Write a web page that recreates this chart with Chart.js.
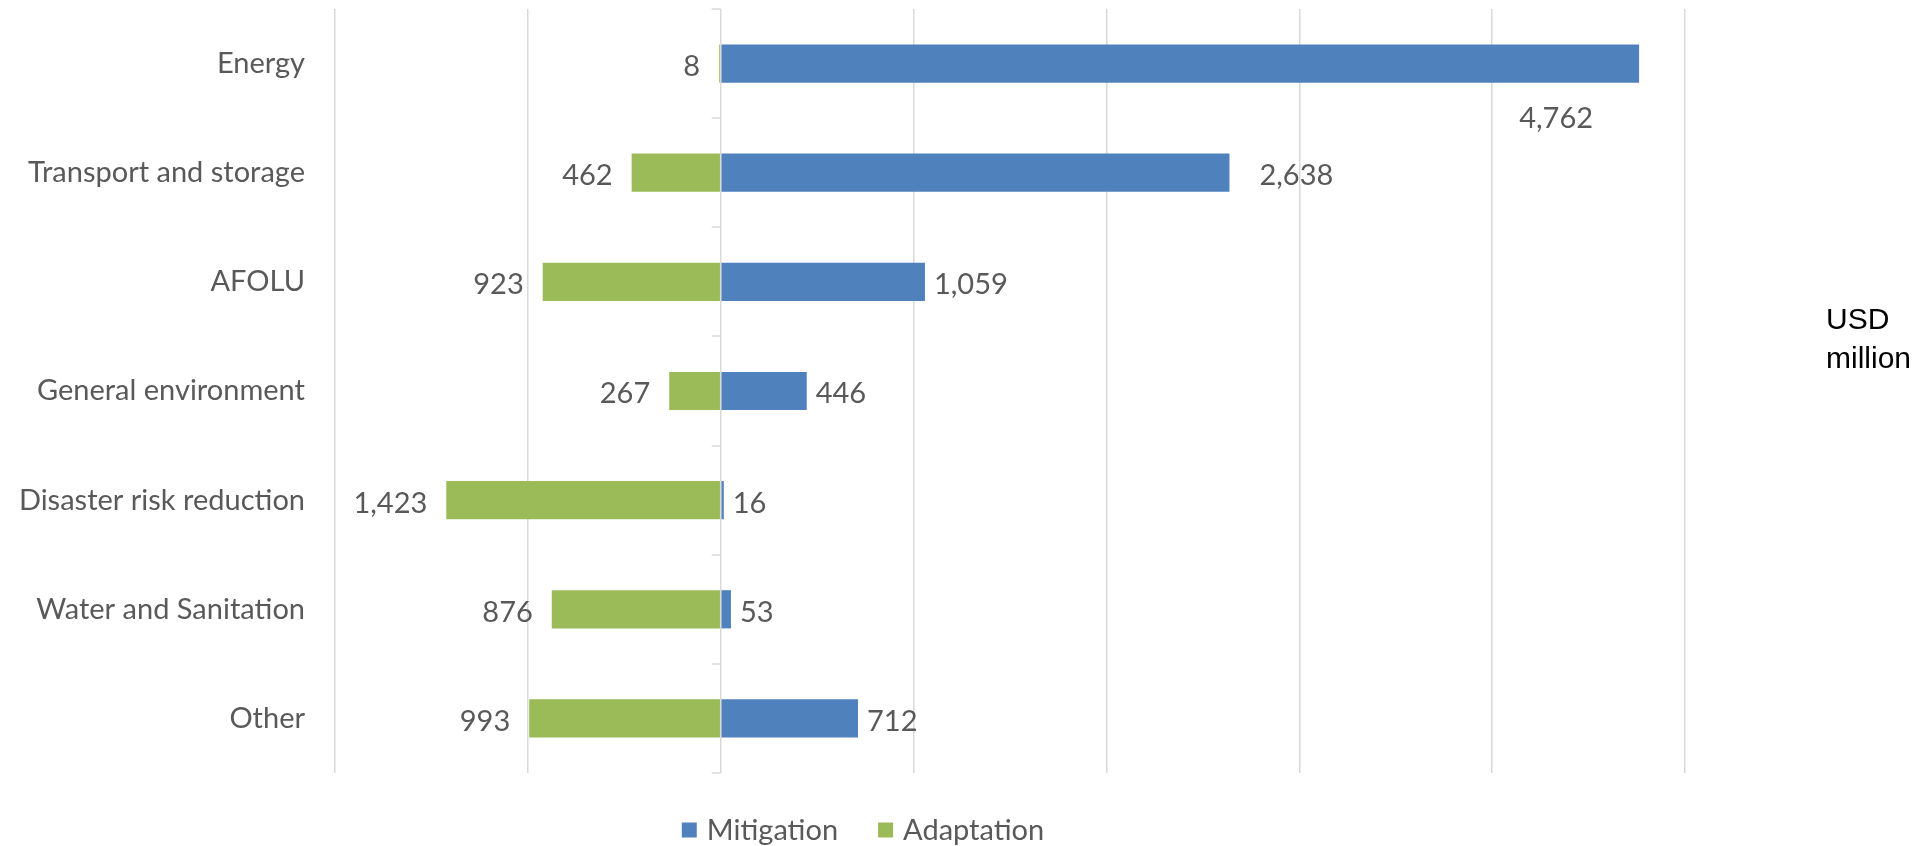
<!DOCTYPE html>
<html><head><meta charset="utf-8">
<script src="https://cdn.jsdelivr.net/npm/chart.js@4.4.1/dist/chart.umd.min.js"></script>
<style>html,body{margin:0;padding:0;background:#fff;overflow:hidden}</style>
</head><body>
<canvas id="c" width="1926" height="846"></canvas>
<script>
const categories = ['Energy','Transport and storage','AFOLU','General environment','Disaster risk reduction','Water and Sanitation','Other'];
const mitigation = [4762, 2638, 1059, 446, 16, 53, 712];
const adaptation = [8, 462, 923, 267, 1423, 876, 993];
const seriesNames = ['Mitigation', 'Adaptation'];
const xRange = [-2000, 5000];
const xStep = 1000;
const unitLines = ['USD', 'million'];

const FONT = 'Lato, "Open Sans", sans-serif';
const TEXT = '#595959';
const BLUE = '#4F81BD';
const GREEN = '#9BBB59';
const GRID = '#D9D9D9';

const annot = {
  id: 'annot',
  afterDatasetsDraw(chart) {
    const ctx = chart.ctx;
    const xs = chart.scales.x, ys = chart.scales.y;
    ctx.save();
    const x0 = xs.getPixelForValue(0);
    const n = categories.length;
    ctx.strokeStyle = GRID; ctx.lineWidth = 1.5;
    for (let i = 0; i <= n; i++) {
      const y = Math.round(ys.top + i * ys.height / n);
      ctx.beginPath(); ctx.moveTo(x0 - 9, y); ctx.lineTo(x0, y); ctx.stroke();
    }
    ctx.font = '29px ' + FONT; ctx.fillStyle = TEXT; ctx.textBaseline = 'middle';
    chart.data.datasets.forEach((ds, di) => {
      const meta = chart.getDatasetMeta(di);
      const vals = di === 0 ? mitigation : adaptation;
      meta.data.forEach((el, i) => {
        const txt = vals[i].toLocaleString('en-US');
        if (di === 0) {
          if (i === 0) { ctx.textAlign = 'center'; ctx.fillText(txt, el.x - 83, el.y + 55); }
          else { ctx.textAlign = 'left'; ctx.fillText(txt, el.x + (i === 1 ? 30 : 9), el.y + 3); }
        } else {
          ctx.textAlign = 'right'; ctx.fillText(txt, el.x - 19, el.y + 3);
        }
      });
    });
    ctx.restore();
  },
  afterDraw(chart) {
    const ctx = chart.ctx;
    ctx.save();
    ctx.font = '30px "Liberation Sans", Arial, sans-serif';
    ctx.fillStyle = '#000'; ctx.textAlign = 'left'; ctx.textBaseline = 'middle';
    ctx.fillText(unitLines[0], 1826, 321);
    ctx.fillText(unitLines[1], 1826, 360);
    ctx.font = '29px ' + FONT; ctx.textBaseline = 'middle';
    const colors = [BLUE, GREEN];
    const box = 15, gapText = 10, gapItem = 40, cy = 830;
    const widths = seriesNames.map(s => box + gapText + ctx.measureText(s).width);
    const total = widths.reduce((a, b) => a + b, 0) + gapItem * (seriesNames.length - 1);
    let x = 863 - total / 2;
    seriesNames.forEach((s, i) => {
      ctx.fillStyle = colors[i];
      ctx.fillRect(x, cy - box / 2, box, box);
      ctx.fillStyle = TEXT; ctx.textAlign = 'left';
      ctx.fillText(s, x + box + gapText, cy + 1);
      x += widths[i] + gapItem;
    });
    ctx.restore();
  }
};

new Chart(document.getElementById('c'), {
  type: 'bar',
  data: {
    labels: categories,
    datasets: [
      { label: seriesNames[0], data: mitigation, backgroundColor: BLUE, borderWidth: 0 },
      { label: seriesNames[1], data: adaptation.map(v => -v), backgroundColor: GREEN, borderWidth: 0 }
    ]
  },
  options: {
    indexAxis: 'y',
    responsive: false,
    animation: false,
    devicePixelRatio: 1,
    layout: { padding: { left: 0, right: 241, top: 9, bottom: 73 } },
    datasets: { bar: { categoryPercentage: 1, barPercentage: 0.35 } },
    plugins: { legend: { display: false }, tooltip: { enabled: false } },
    scales: {
      x: {
        stacked: true, min: xRange[0], max: xRange[1],
        ticks: { display: false, stepSize: xStep },
        grid: { color: GRID, lineWidth: 1.5, drawTicks: false },
        border: { display: false },
        afterFit(s) { s.height = 0; s.paddingLeft = 0; s.paddingRight = 0; }
      },
      y: {
        stacked: true,
        ticks: { color: TEXT, font: { family: FONT, size: 29 }, padding: 30 },
        grid: { display: false, drawTicks: false },
        border: { display: false },
        afterFit(s) { s.width = 335; s.paddingTop = 0; s.paddingBottom = 0; }
      }
    }
  },
  plugins: [annot]
});
</script>
</body></html>
